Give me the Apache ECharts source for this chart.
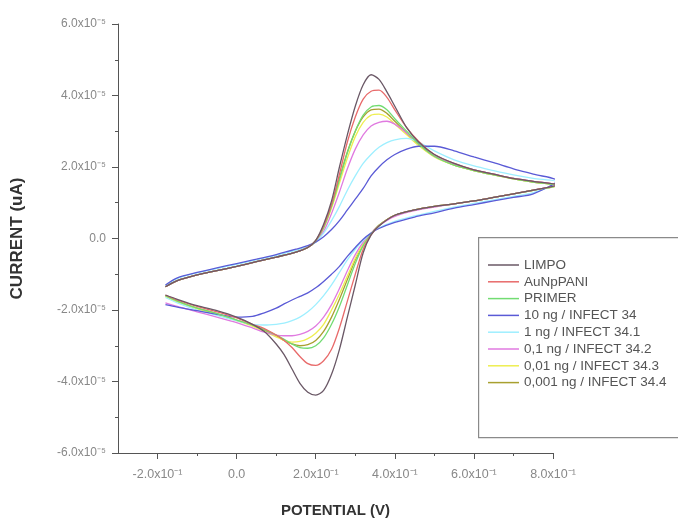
<!DOCTYPE html>
<html><head><meta charset="utf-8">
<script src="https://cdn.jsdelivr.net/npm/echarts@6/dist/echarts.min.js"></script>
<style>html,body{margin:0;padding:0;background:#fff}#c{width:678px;height:523px}</style>
</head><body><div id="c"></div>
<script>
// Potential (V): forward sweep then reverse sweep
const potentialForward = [-0.18,-0.15,-0.10,-0.05,0.00,0.05,0.10,0.15,0.18,0.20,0.22,0.24,0.26,0.28,0.30,0.32,0.34,0.36,0.38,0.40,0.43,0.46,0.50,0.55,0.60,0.65,0.70,0.75,0.81];
const potentialReverse = [0.75,0.70,0.65,0.60,0.55,0.50,0.45,0.40,0.36,0.34,0.32,0.30,0.28,0.26,0.24,0.22,0.20,0.18,0.16,0.14,0.12,0.10,0.07,0.04,0.00,-0.05,-0.10,-0.15,-0.18];

// Current, in units of 1e-5
const limpoFwd = [-1.35,-1.18,-1.02,-0.9,-0.78,-0.65,-0.52,-0.38,-0.25,-0.05,0.4,1.05,2.0,2.9,3.7,4.3,4.58,4.45,4.1,3.7,3.1,2.7,2.35,2.1,1.92,1.8,1.68,1.6,1.5];
const limpoRev = [1.35,1.25,1.15,1.05,0.97,0.9,0.8,0.65,0.35,0.1,-0.4,-1.3,-2.2,-3.1,-3.8,-4.25,-4.38,-4.3,-4.05,-3.65,-3.25,-2.95,-2.6,-2.4,-2.2,-2.02,-1.88,-1.7,-1.58];
const aunpFwd = [-1.35,-1.18,-1.02,-0.9,-0.78,-0.65,-0.52,-0.38,-0.25,-0.06,0.35,0.95,1.8,2.7,3.4,3.9,4.12,4.15,3.95,3.6,3.1,2.72,2.35,2.1,1.92,1.8,1.68,1.6,1.5];
const aunpRev = [1.35,1.25,1.15,1.05,0.97,0.9,0.8,0.65,0.36,0.1,-0.3,-1.0,-1.75,-2.5,-3.1,-3.42,-3.55,-3.5,-3.3,-3.05,-2.85,-2.7,-2.52,-2.4,-2.22,-2.05,-1.9,-1.72,-1.58];
const primerFwd = [-1.35,-1.18,-1.02,-0.9,-0.78,-0.65,-0.52,-0.38,-0.25,-0.07,0.3,0.9,1.65,2.4,3.0,3.45,3.68,3.72,3.6,3.35,3.0,2.65,2.3,2.05,1.9,1.78,1.67,1.58,1.48];
const primerRev = [1.35,1.25,1.15,1.05,0.97,0.9,0.8,0.65,0.37,0.12,-0.2,-0.7,-1.3,-1.9,-2.4,-2.78,-3.0,-3.07,-3.05,-2.95,-2.82,-2.7,-2.55,-2.42,-2.28,-2.1,-1.95,-1.75,-1.6];
const ng10Fwd = [-1.3,-1.1,-0.95,-0.82,-0.7,-0.58,-0.45,-0.3,-0.2,-0.1,0.05,0.25,0.5,0.8,1.1,1.4,1.75,2.0,2.2,2.35,2.5,2.58,2.58,2.45,2.28,2.12,1.95,1.8,1.62];
const ng10Rev = [1.25,1.15,1.05,0.95,0.85,0.72,0.6,0.45,0.28,0.15,-0.02,-0.25,-0.5,-0.78,-1.0,-1.2,-1.38,-1.52,-1.62,-1.72,-1.83,-1.95,-2.08,-2.18,-2.2,-2.12,-2.02,-1.92,-1.85];
const ng1Fwd = [-1.32,-1.12,-0.96,-0.84,-0.72,-0.6,-0.47,-0.33,-0.22,-0.1,0.15,0.5,0.9,1.35,1.75,2.1,2.35,2.55,2.68,2.76,2.8,2.7,2.45,2.2,2.03,1.9,1.78,1.68,1.58];
const ng1Rev = [1.28,1.18,1.08,0.98,0.88,0.76,0.63,0.48,0.3,0.15,-0.05,-0.3,-0.6,-0.95,-1.3,-1.6,-1.85,-2.05,-2.2,-2.3,-2.37,-2.4,-2.42,-2.4,-2.3,-2.15,-2.0,-1.8,-1.65];
const ng01Fwd = [-1.35,-1.18,-1.02,-0.9,-0.78,-0.65,-0.52,-0.38,-0.25,-0.08,0.2,0.7,1.3,1.95,2.5,2.9,3.15,3.25,3.28,3.2,2.95,2.65,2.3,2.08,1.92,1.8,1.68,1.6,1.5];
const ng01Rev = [1.35,1.25,1.15,1.05,0.97,0.88,0.78,0.62,0.36,0.15,-0.1,-0.45,-0.9,-1.4,-1.85,-2.2,-2.45,-2.6,-2.68,-2.72,-2.72,-2.7,-2.62,-2.5,-2.35,-2.2,-2.05,-1.9,-1.8];
const ng001Fwd = [-1.35,-1.18,-1.02,-0.9,-0.78,-0.65,-0.52,-0.38,-0.25,-0.07,0.28,0.85,1.55,2.25,2.85,3.25,3.45,3.48,3.4,3.2,2.9,2.6,2.28,2.05,1.9,1.78,1.67,1.58,1.48];
const ng001Rev = [1.35,1.25,1.15,1.05,0.97,0.9,0.8,0.65,0.37,0.13,-0.15,-0.55,-1.05,-1.55,-2.0,-2.4,-2.65,-2.8,-2.88,-2.9,-2.85,-2.75,-2.6,-2.45,-2.3,-2.12,-1.97,-1.78,-1.62];
const ng0001Fwd = [-1.35,-1.18,-1.02,-0.9,-0.78,-0.65,-0.52,-0.38,-0.25,-0.06,0.32,0.92,1.68,2.42,3.0,3.4,3.6,3.62,3.5,3.28,2.95,2.62,2.3,2.05,1.9,1.78,1.67,1.58,1.48];
const ng0001Rev = [1.35,1.25,1.15,1.05,0.97,0.9,0.8,0.65,0.37,0.12,-0.18,-0.6,-1.15,-1.7,-2.2,-2.6,-2.85,-2.97,-3.0,-2.95,-2.85,-2.72,-2.57,-2.43,-2.28,-2.1,-1.95,-1.75,-1.6];

const seriesNames = ['LIMPO','AuNpPANI','PRIMER','10 ng / INFECT 34','1 ng / INFECT 34.1','0,1 ng / INFECT 34.2','0,01 ng / INFECT 34.3','0,001 ng / INFECT 34.4'];
const seriesColors = ['#6a5866','#e86a6a','#72dc72','#5a5ad6','#9eefff','#e07ae0','#eeee50','#a8a030'];
const seriesFwd = [limpoFwd,aunpFwd,primerFwd,ng10Fwd,ng1Fwd,ng01Fwd,ng001Fwd,ng0001Fwd];
const seriesRev = [limpoRev,aunpRev,primerRev,ng10Rev,ng1Rev,ng01Rev,ng001Rev,ng0001Rev];

const xMajor = [-0.2,0,0.2,0.4,0.6,0.8];
const xMinor = [-0.1,0.1,0.3,0.5,0.7];

const potential = potentialForward.concat(potentialReverse);
const FONT = '"Liberation Sans", Arial, sans-serif';

function xLabel(v){ const t = Math.round(v*10); if (t===0) return '0.0'; return t.toFixed(1)+'x10\u207B\u00B9'; }
function yLabel(v){ if (Math.abs(v)<1e-9) return '0.0'; return v.toFixed(1)+'x10\u207B\u2075'; }

const series = seriesNames.map((n,i)=>({
  name:n, type:'line', xAxisIndex:0, yAxisIndex:0,
  data: potential.map((x,k)=>[x, seriesFwd[i].concat(seriesRev[i])[k]]),
  symbol:'none', smooth:0.3, color:seriesColors[i],
  lineStyle:{width:1.3, color:seriesColors[i]}, z: 10-i
}));

const chart = echarts.init(document.getElementById('c'), null, {renderer:'canvas'});
chart.setOption({
  animation:false,
  backgroundColor:'#fff',
  grid:{left:118, top:24, right:125, bottom:68, containLabel:false},
  graphic:[{type:'rect', left:478, top:237, z:0,
    shape:{width:215, height:200},
    style:{fill:'#fff', stroke:'#8a8a8a', lineWidth:1.2}}],
  legend:{
    orient:'vertical', left:488, top:258, z:5, padding:0,
    data:seriesNames, icon:'rect', itemWidth:31, itemHeight:1.5, itemGap:2.8,
    textStyle:{fontFamily:FONT, fontSize:13.5, color:'#555', lineHeight:12}
  },
  xAxis:[{
    type:'value', min:-0.3, max:0.8, interval:0.1, position:'bottom',
    name:'POTENTIAL (V)', nameLocation:'middle', nameGap:50,
    nameTextStyle:{fontFamily:FONT, fontSize:15, fontWeight:'bold', color:'#333'},
    axisLine:{show:true, onZero:false, lineStyle:{color:'#555', width:1}},
    axisTick:{show:true, customValues:xMajor, length:6, lineStyle:{color:'#555'}},
    axisLabel:{customValues:xMajor, formatter:xLabel, margin:15, fontFamily:FONT, fontSize:12.5, color:'#888'},
    splitLine:{show:false}
  },{
    type:'value', min:-0.3, max:0.8, interval:0.1, position:'bottom', gridIndex:0,
    axisLine:{show:false, onZero:false},
    axisTick:{show:true, customValues:xMinor, length:3, lineStyle:{color:'#555'}},
    axisLabel:{show:false}, splitLine:{show:false}
  }],
  yAxis:{
    type:'value', min:-6, max:6, interval:2,
    name:'CURRENT (uA)', nameLocation:'middle', nameGap:92, nameRotate:90,
    nameTextStyle:{fontFamily:FONT, fontSize:17, fontWeight:'bold', color:'#333'},
    axisLine:{show:true, onZero:false, lineStyle:{color:'#555', width:1}},
    axisTick:{show:true, length:6, lineStyle:{color:'#555'}},
    minorTick:{show:true, splitNumber:2, length:3, lineStyle:{color:'#555'}},
    axisLabel:{formatter:yLabel, margin:12, fontFamily:FONT, fontSize:12, color:'#888'},
    splitLine:{show:false}
  },
  series:series
});
</script></body></html>
